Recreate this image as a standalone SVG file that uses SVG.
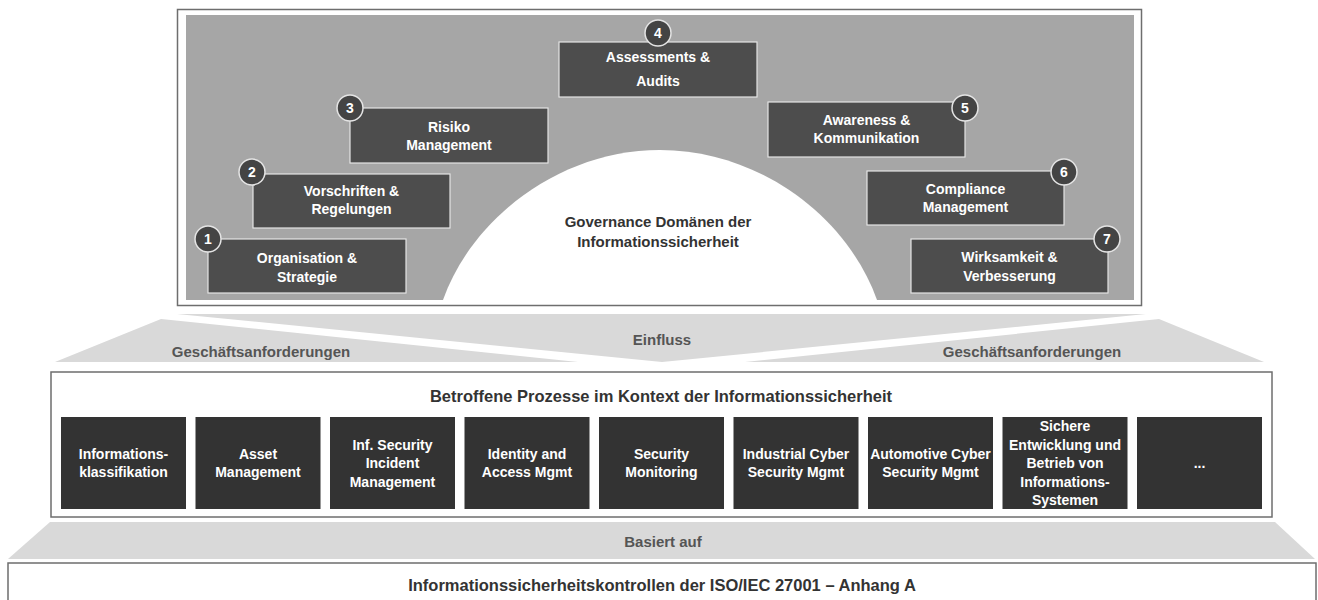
<svg xmlns="http://www.w3.org/2000/svg" width="1318" height="600" viewBox="0 0 1318 600">
<style>
.gbox{fill:#4d4d4d;stroke:#e4e4e4;stroke-width:1.2}
.num{fill:#444;stroke:#e4e4e4;stroke-width:1.5}
.wt{fill:#fff;font-family:"Liberation Sans",Arial,sans-serif;font-weight:bold;font-size:14px;text-anchor:middle}
.nt{fill:#fff;font-family:"Liberation Sans",Arial,sans-serif;font-weight:bold;font-size:14px;text-anchor:middle}
.pbox{fill:#333333}
.pt{fill:#fff;font-family:"Liberation Sans",Arial,sans-serif;font-weight:bold;font-size:14px;text-anchor:middle}
.dt{fill:#333;font-family:"Liberation Sans",Arial,sans-serif;font-weight:bold;font-size:15px;text-anchor:middle}
.ht{fill:#333;font-family:"Liberation Sans",Arial,sans-serif;font-weight:bold;font-size:16.5px;text-anchor:middle}
.lt{fill:#555;font-family:"Liberation Sans",Arial,sans-serif;font-weight:bold;font-size:15px;text-anchor:middle}
.band{fill:#d9d9d9}
.frame{fill:#fff;stroke:#6e6e6e;stroke-width:1.5}
</style>
<rect width="1318" height="600" fill="#fff"/>

<g id="governance">
<rect class="frame" x="177.5" y="9.5" width="964" height="296"/>
<rect x="186" y="15" width="948" height="285" fill="#a6a6a6"/>
<path d="M443,300 C472,218 560,150 660,150 C760,150 848,218 877,300 Z" fill="#fff"/>
<text class="dt" x="658" y="227">Governance Domänen der</text>
<text class="dt" x="658" y="247">Informationssicherheit</text>
</g>

<g id="g1">
<rect class="gbox" x="208" y="239" width="198" height="54"/>
<text class="wt" x="307" y="263">Organisation &amp;</text>
<text class="wt" x="307" y="282">Strategie</text>
<circle class="num" cx="208" cy="239" r="13"/>
<text class="nt" x="208" y="244">1</text>
</g>
<g id="g2">
<rect class="gbox" x="253" y="174" width="197" height="54"/>
<text class="wt" x="351.5" y="196">Vorschriften &amp;</text>
<text class="wt" x="351.5" y="214">Regelungen</text>
<circle class="num" cx="252" cy="172" r="13"/>
<text class="nt" x="252" y="177">2</text>
</g>
<g id="g3">
<rect class="gbox" x="350" y="108" width="198" height="55"/>
<text class="wt" x="449" y="132">Risiko</text>
<text class="wt" x="449" y="150">Management</text>
<circle class="num" cx="350" cy="108" r="13"/>
<text class="nt" x="350" y="113">3</text>
</g>
<g id="g4">
<rect class="gbox" x="559" y="42" width="198" height="55"/>
<text class="wt" x="658" y="62">Assessments &amp;</text>
<text class="wt" x="658" y="86">Audits</text>
<circle class="num" cx="658" cy="33" r="13"/>
<text class="nt" x="658" y="38">4</text>
</g>
<g id="g5">
<rect class="gbox" x="768" y="102" width="197" height="55"/>
<text class="wt" x="866.5" y="125">Awareness &amp;</text>
<text class="wt" x="866.5" y="143">Kommunikation</text>
<circle class="num" cx="965" cy="108" r="13"/>
<text class="nt" x="965" y="113">5</text>
</g>
<g id="g6">
<rect class="gbox" x="867" y="171" width="197" height="54"/>
<text class="wt" x="965.5" y="194">Compliance</text>
<text class="wt" x="965.5" y="212">Management</text>
<circle class="num" cx="1064" cy="172" r="13"/>
<text class="nt" x="1064" y="177">6</text>
</g>
<g id="g7">
<rect class="gbox" x="911" y="239" width="197" height="54"/>
<text class="wt" x="1009.5" y="262">Wirksamkeit &amp;</text>
<text class="wt" x="1009.5" y="281">Verbesserung</text>
<circle class="num" cx="1107" cy="239" r="13"/>
<text class="nt" x="1107" y="244">7</text>
</g>

<g id="connectors">
<polygon class="band" points="177,314 1146,314 662,362"/>
<polygon class="band" points="161,319 578,362 55,362"/>
<polygon class="band" points="1159,319 1264,362 745,362"/>
<polygon class="band" points="50,522 1275,522 1315,559 8,559"/>
</g>
<g id="band-labels">
<text class="lt" x="662" y="345">Einfluss</text>
<text class="lt" x="261" y="357">Geschäftsanforderungen</text>
<text class="lt" x="1032" y="357">Geschäftsanforderungen</text>
<text class="lt" x="663" y="547">Basiert auf</text>
</g>

<g id="prozesse">
<rect class="frame" x="51" y="372" width="1221" height="145"/>
<text class="ht" x="661" y="402">Betroffene Prozesse im Kontext der Informationssicherheit</text>
</g>
<g id="p1">
<rect class="pbox" x="61" y="417" width="125" height="92"/>
<text class="pt" x="123.5" y="458.5">Informations-</text>
<text class="pt" x="123.5" y="477">klassifikation</text>
</g>
<g id="p2">
<rect class="pbox" x="195.5" y="417" width="125" height="92"/>
<text class="pt" x="258" y="458.5">Asset</text>
<text class="pt" x="258" y="477">Management</text>
</g>
<g id="p3">
<rect class="pbox" x="330" y="417" width="125" height="92"/>
<text class="pt" x="392.5" y="449.5">Inf. Security</text>
<text class="pt" x="392.5" y="468">Incident</text>
<text class="pt" x="392.5" y="486.5">Management</text>
</g>
<g id="p4">
<rect class="pbox" x="464.5" y="417" width="125" height="92"/>
<text class="pt" x="527" y="458.5">Identity and</text>
<text class="pt" x="527" y="477">Access Mgmt</text>
</g>
<g id="p5">
<rect class="pbox" x="599" y="417" width="125" height="92"/>
<text class="pt" x="661.5" y="458.5">Security</text>
<text class="pt" x="661.5" y="477">Monitoring</text>
</g>
<g id="p6">
<rect class="pbox" x="733.5" y="417" width="125" height="92"/>
<text class="pt" x="796" y="458.5">Industrial Cyber</text>
<text class="pt" x="796" y="477">Security Mgmt</text>
</g>
<g id="p7">
<rect class="pbox" x="868" y="417" width="125" height="92"/>
<text class="pt" x="930.5" y="458.5">Automotive Cyber</text>
<text class="pt" x="930.5" y="477">Security Mgmt</text>
</g>
<g id="p8">
<rect class="pbox" x="1002.5" y="417" width="125" height="92"/>
<text class="pt" x="1065" y="431">Sichere</text>
<text class="pt" x="1065" y="449.5">Entwicklung und</text>
<text class="pt" x="1065" y="468">Betrieb von</text>
<text class="pt" x="1065" y="486.5">Informations-</text>
<text class="pt" x="1065" y="505">Systemen</text>
</g>
<g id="p9">
<rect class="pbox" x="1137" y="417" width="125" height="92"/>
<text class="pt" x="1199.5" y="468">...</text>
</g>

<g id="controls">
<rect class="frame" x="8" y="563" width="1308" height="50"/>
<text class="ht" x="662" y="591">Informationssicherheitskontrollen der ISO/IEC 27001 – Anhang A</text>
</g>
</svg>
